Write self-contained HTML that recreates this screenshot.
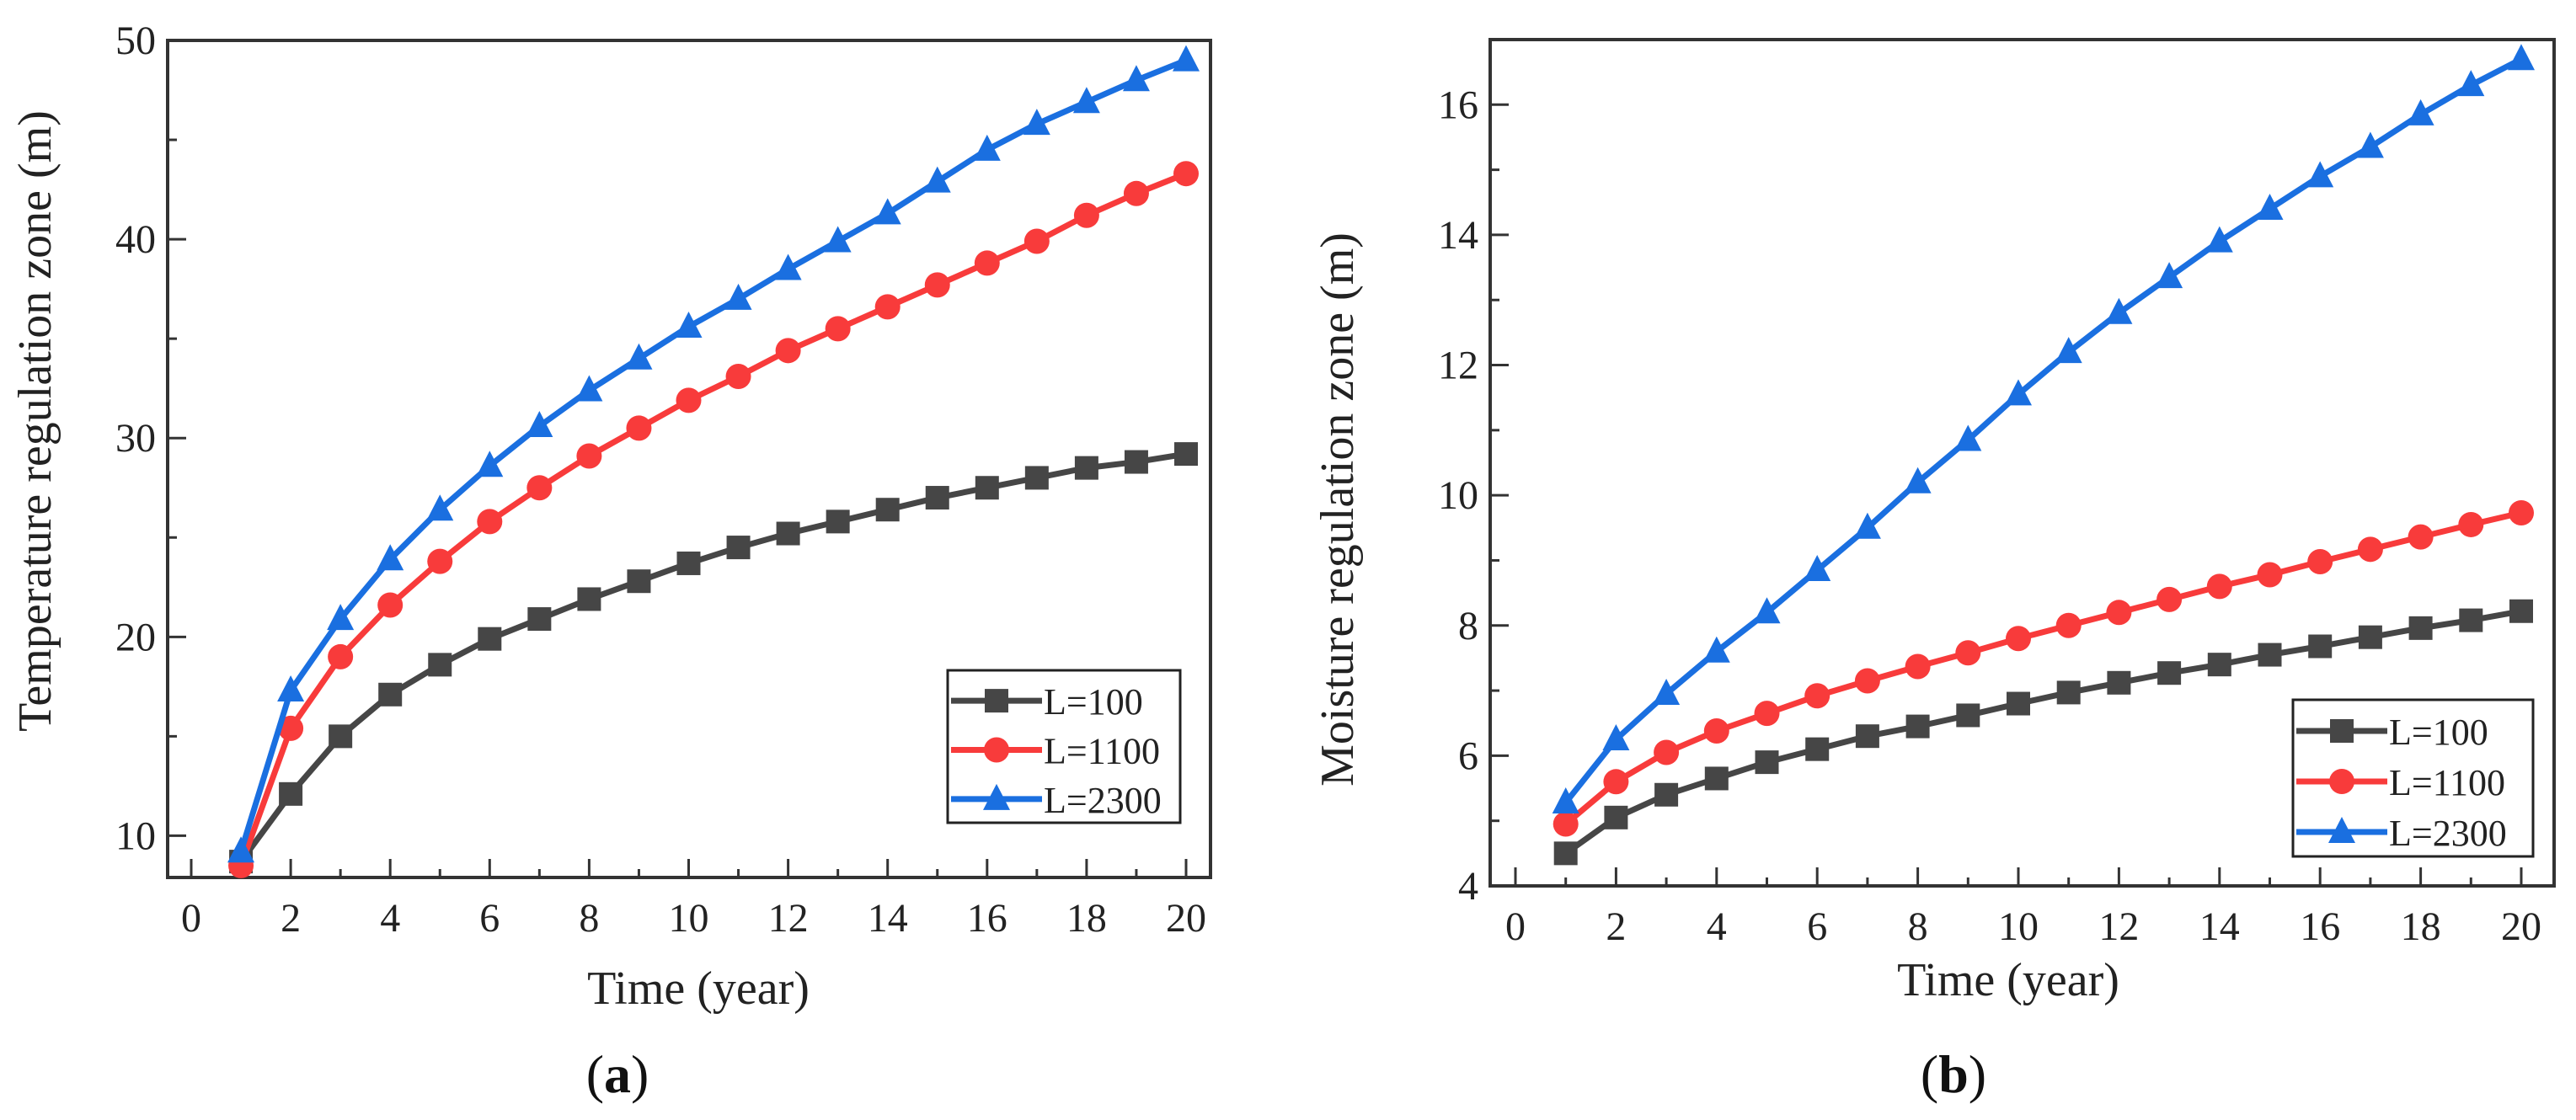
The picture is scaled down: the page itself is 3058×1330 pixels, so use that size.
<!DOCTYPE html>
<html><head><meta charset="utf-8"><style>
html,body{margin:0;padding:0;background:#fff;}
svg{display:block;font-family:"Liberation Serif",serif;}
</style></head><body>
<svg id="chart" width="3058" height="1330" viewBox="0 0 3058 1330" xmlns="http://www.w3.org/2000/svg"></svg>
<script>
const years = [1,2,3,4,5,6,7,8,9,10,11,12,13,14,15,16,17,18,19,20];
const tempL100  = [8.7,12.1,15.0,17.1,18.6,19.9,20.9,21.9,22.8,23.7,24.5,25.2,25.8,26.4,27.0,27.5,28.0,28.5,28.8,29.2];
const tempL1100 = [8.5,15.4,19.0,21.6,23.8,25.8,27.5,29.1,30.5,31.9,33.1,34.4,35.5,36.6,37.7,38.8,39.9,41.2,42.3,43.3];
const tempL2300 = [9.2,17.3,20.9,23.9,26.4,28.6,30.6,32.4,34.0,35.6,37.0,38.5,39.9,41.3,42.9,44.5,45.8,46.9,48.0,49.0];
const moistL100  = [4.5,5.05,5.4,5.65,5.9,6.1,6.3,6.45,6.62,6.8,6.97,7.12,7.27,7.4,7.55,7.68,7.82,7.96,8.08,8.22];
const moistL1100 = [4.95,5.6,6.05,6.38,6.65,6.92,7.15,7.37,7.58,7.8,8.0,8.2,8.4,8.6,8.78,8.98,9.17,9.36,9.55,9.73];
const moistL2300 = [5.28,6.25,6.95,7.6,8.2,8.85,9.5,10.2,10.85,11.55,12.2,12.8,13.35,13.9,14.4,14.9,15.35,15.85,16.3,16.7];
const xTickLabels = [0,2,4,6,8,10,12,14,16,18,20];
const tempYTicks = [10,20,30,40,50];
const moistYTicks = [4,6,8,10,12,14,16];
const seriesNames = ["L=100","L=1100","L=2300"];

const NS="http://www.w3.org/2000/svg";
const svg=document.getElementById('chart');
const COLORS=["#464646","#f83b3b","#1a6fe0"];
const SHAPES=["square","circle","triangle"];
function el(tag,attrs,parent){const e=document.createElementNS(NS,tag);for(const k in attrs)e.setAttribute(k,attrs[k]);(parent||svg).appendChild(e);return e;}
function marker(g,shape,x,y,color){
  let m;
  if(shape==="square"){m=el('rect',{x:x-14,y:y-14,width:28,height:28,fill:color},g);}
  else if(shape==="circle"){m=el('circle',{cx:x,cy:y,r:15,fill:color},g);}
  else {m=el('polygon',{points:`${x},${y-18} ${x-16},${y+13} ${x+16},${y+13}`,fill:color},g);}
  return m;
}
function drawPanel(cfg){
  const p=el('g',{});
  
  
  const X=v=>cfg.x0+(v-0)*(cfg.x20-cfg.x0)/20;
  const Y=v=>cfg.bottom-(v-cfg.ymin)*(cfg.bottom-cfg.top)/(cfg.ymax-cfg.ymin);
  const frame=el('rect',{x:cfg.left,y:cfg.top,width:cfg.right-cfg.left,height:cfg.bottom-cfg.top,fill:"none",stroke:"#333","stroke-width":4},p);
  
  for(let i=0;i<=20;i++){
    const t=el('line',{x1:X(i),x2:X(i),y1:cfg.bottom,y2:cfg.bottom-(i%2===0?22:10),stroke:"#333","stroke-width":3},p);
    
  }
  xTickLabels.forEach(v=>{
    const t=el('text',{x:X(v),y:cfg.bottom+64,"text-anchor":"middle","font-size":48,fill:"#222"},p);
    t.textContent=v;
  });
  cfg.yTicks.forEach(v=>{
    const t=el('line',{x1:cfg.left,x2:cfg.left+22,y1:Y(v),y2:Y(v),stroke:"#333","stroke-width":3},p);
    
    const l=el('text',{x:cfg.left-14,y:Y(v)+16,"text-anchor":"end","font-size":48,fill:"#222"},p);
    l.textContent=v;
  });
  cfg.yMinor.forEach(v=>{
    const t=el('line',{x1:cfg.left,x2:cfg.left+11,y1:Y(v),y2:Y(v),stroke:"#333","stroke-width":3},p);
    
  });
  cfg.series.forEach((data,si)=>{
    const g=el('g',{},p);
    
    
    const pl=el('polyline',{points:years.map((yr,i)=>X(yr)+','+Y(data[i])).join(' '),fill:"none",stroke:COLORS[si],"stroke-width":7,"stroke-linejoin":"round"},g);
    
    years.forEach((yr,i)=>{
      const m=marker(g,SHAPES[si],X(yr),Y(data[i]),COLORS[si]);
      
      
    });
  });
  const lg=el('g',{},p);
  
  const L=cfg.legend;
  el('rect',{x:L.x,y:L.y,width:L.w,height:L.h,fill:"#fff",stroke:"#222","stroke-width":3},lg);
  seriesNames.forEach((n,si)=>{
    const e=el('g',{},lg);
    
    const cy=L.y+L.h*(si+0.55)/3.1+4;
    el('line',{x1:L.x+4,x2:L.x+112,y1:cy,y2:cy,stroke:COLORS[si],"stroke-width":7},e);
    marker(e,SHAPES[si],L.x+58,cy,COLORS[si]);
    const t=el('text',{x:L.x+114,y:cy+16,"font-size":L.fs,fill:"#222"},e);
    t.textContent=n;
  });
  const xt=el('text',{x:cfg.xt[0],y:cfg.xt[1],"text-anchor":"middle","font-size":56,fill:"#222"},p);
  xt.textContent="Time (year)";
  const yt=el('text',{x:0,y:0,"text-anchor":"middle","font-size":56,fill:"#222",transform:`translate(${cfg.yt[0]},${cfg.yt[1]}) rotate(-90)`},p);
  yt.textContent=cfg.ytitle;
  const cap=el('text',{x:cfg.cap[0],y:cfg.cap[1],"text-anchor":"middle","font-size":64,fill:"#111"},p);
  cap.innerHTML=cfg.capText;
}
drawPanel({name:'panel-a-temperature',left:199,right:1437,top:48,bottom:1042,x0:227,x20:1408,ymin:7.9,ymax:50,
  yTicks:tempYTicks,yMinor:[15,25,35,45],series:[tempL100,tempL1100,tempL2300],
  legend:{x:1125,y:796,w:276,h:181,fs:44},xt:[829,1192],yt:[60,500],ytitle:"Temperature regulation zone (m)",
  cap:[733,1297],capText:'(<tspan font-weight="bold">a</tspan>)'});
drawPanel({name:'panel-b-moisture',left:1769,right:3032,top:47,bottom:1052,x0:1799,x20:2993,ymin:4,ymax:17,
  yTicks:moistYTicks,yMinor:[5,7,9,11,13,15],series:[moistL100,moistL1100,moistL2300],
  legend:{x:2722,y:831,w:285,h:186,fs:44},xt:[2384,1182],yt:[1606,605],ytitle:"Moisture regulation zone (m)",
  cap:[2319,1297],capText:'(<tspan font-weight="bold">b</tspan>)'});
</script>
</body></html>
